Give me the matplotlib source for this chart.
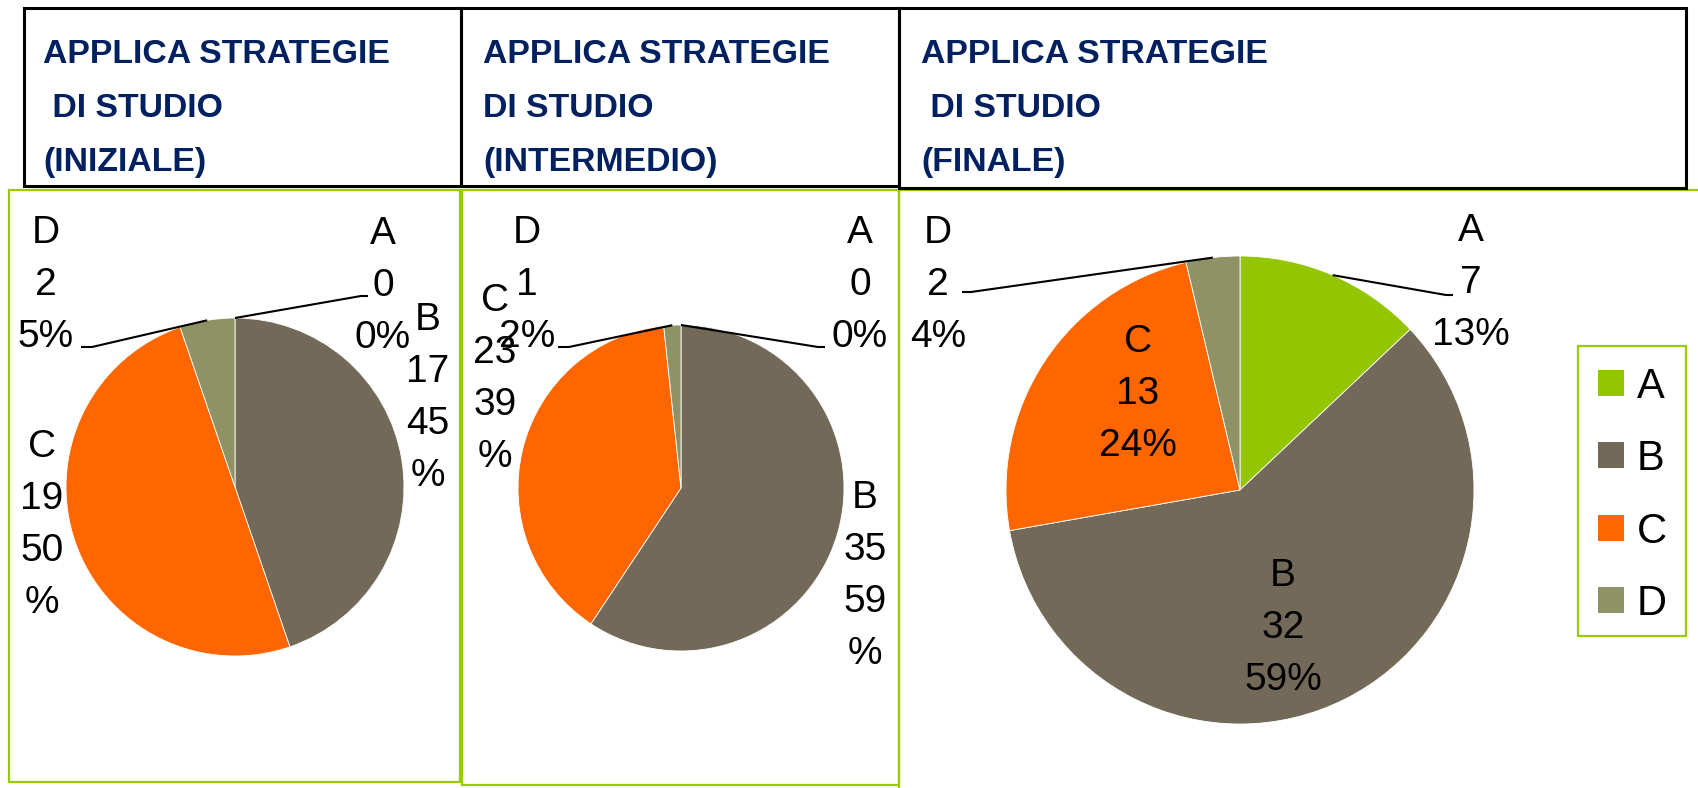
import numpy as np
import matplotlib
matplotlib.use("Agg")
import matplotlib.pyplot as plt
from matplotlib.patches import Rectangle

#%% Data
categories = ["A", "B", "C", "D"]
iniziale = [0, 17, 19, 2]
intermedio = [0, 35, 23, 1]
finale = [7, 32, 13, 2]
titles = ["APPLICA STRATEGIE\n DI STUDIO\n(INIZIALE)",
          "APPLICA STRATEGIE\nDI STUDIO\n(INTERMEDIO)",
          "APPLICA STRATEGIE\n DI STUDIO\n(FINALE)"]
colors = ["#93C500", "#726959", "#FF6600", "#8F9265"]

W, H = 1698, 788
NAVY = "#002060"
GREEN = "#99CC00"
FONT = "Liberation Sans"

# layout in pixels, y measured from the top
panels = [
    dict(values=iniziale, center=(235, 487), radius=169,
         title_box=(24, 8, 461, 186), title_x=43, frame=(9, 190, 460, 782),
         labels={"A": (383, 230), "B": (428, 316), "C": (42, 443), "D": (46, 229)},
         wrap=["B", "C"],
         leaders={"A": [(361, 296), (368, 296)], "D": [(92, 347), (81, 347)]}),
    dict(values=intermedio, center=(681, 488), radius=163,
         title_box=(461, 8, 899, 186), title_x=483, frame=(462, 190, 899, 785),
         labels={"A": (860, 229), "B": (865, 494), "C": (495, 297), "D": (527, 229)},
         wrap=["B", "C"],
         leaders={"A": [(818, 347), (825, 347)], "D": [(569, 347), (558, 347)]}),
    dict(values=finale, center=(1240, 490), radius=234,
         title_box=(899, 8, 1686, 188), title_x=921, frame=(899, 190, 1730, 820),
         labels={"A": (1471, 227), "B": (1283, 572), "C": (1138, 338), "D": (938, 229)},
         wrap=[],
         leaders={"A": [(1446, 295), (1453, 295)], "D": [(971, 292), (962, 292)]}),
]


def box(ax, x0, y0, x1, y1, color, lw):
    """Rectangle given by top-left and bottom-right pixel corners."""
    ax.add_patch(Rectangle((x0, H - y1), x1 - x0, y1 - y0, fill=False,
                           edgecolor=color, linewidth=lw))


def stack(ax, x, y_top, lines, step, size, **kw):
    """Writes lines centred on x, first line's cap centre at y_top."""
    cap = size * 100 / 72 * 0.716
    for i, line in enumerate(lines):
        ax.text(x, H - (y_top + i * step + cap / 2), line, ha="center",
                va="baseline", fontsize=size, family=FONT, **kw)


#%% Drawing
fig = plt.figure(figsize=(W / 100, H / 100), dpi=100)
ax = fig.add_axes([0, 0, 1, 1])

for p, title in zip(panels, titles):
    vals = p["values"]
    total = sum(vals)
    cx, cy = p["center"]
    r = p["radius"]
    ax.pie(vals, colors=colors, startangle=90, counterclock=False,
           center=(cx, H - cy), radius=r,
           wedgeprops=dict(edgecolor="white", linewidth=0.6))

    cum = 0
    for cat, v in zip(categories, vals):
        pct = round(100 * v / total)
        if cat in p["wrap"]:
            lines = [cat, str(v), str(pct), "%"]
        else:
            lines = [cat, str(v), f"{pct}%"]
        lx, ly = p["labels"][cat]
        stack(ax, lx, ly, lines, 52, 28, color="black")

        # leader line from the slice edge to the label
        if cat in p["leaders"]:
            ang = np.radians(90 - 360 * (cum + v / 2) / total)
            xs = [cx + r * np.cos(ang)] + [e[0] for e in p["leaders"][cat]]
            ys = [H - cy + r * np.sin(ang)] + [H - e[1] for e in p["leaders"][cat]]
            ax.plot(xs, ys, color="black", linewidth=1.5, solid_capstyle="butt")
        cum += v

    box(ax, *p["frame"], GREEN, 1.6)
    box(ax, *p["title_box"], "black", 2.2)
    for i, line in enumerate(title.split("\n")):
        ax.text(p["title_x"], H - (63 + i * 54), line, ha="left", va="baseline",
                fontsize=24.3, fontweight="bold", family=FONT, color=NAVY)

# legend
box(ax, 1578, 346, 1686, 636, GREEN, 1.6)
leg_y = [383, 455, 528, 600]
for cat, col, y in zip(categories, colors, leg_y):
    ax.add_patch(Rectangle((1598, H - y - 13), 26, 26, facecolor=col,
                           edgecolor="none"))
    ax.text(1637, H - (y + 15), cat, ha="left", va="baseline",
            fontsize=30, family=FONT, color="black")

ax.set_xlim(0, W)
ax.set_ylim(0, H)
ax.set_aspect("auto")
ax.axis("off")

fig.savefig("out.png", dpi=100)
